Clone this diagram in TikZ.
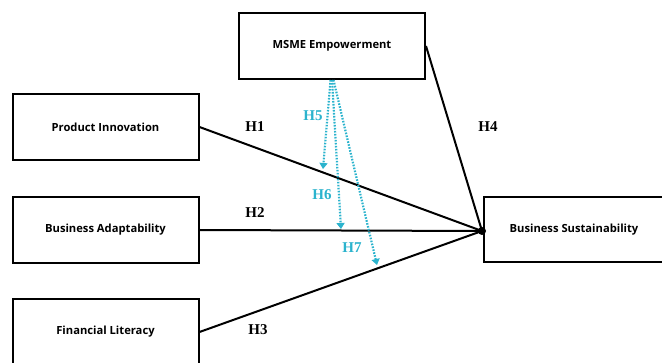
\documentclass[tikz,border=0pt]{standalone}
\usepackage{fontspec}
\setmainfont{Liberation Serif}
\newfontfamily\cajafont{Open Sans}
\usepackage{xcolor}
\usetikzlibrary{arrows.meta}
\definecolor{cian}{HTML}{2BB3CD}

\begin{document}
\begin{tikzpicture}[x=1pt, y=-1pt,
		caja/.style={draw, line width=2pt, inner sep=0pt, minimum width=186pt, minimum height=66pt, font=\cajafont\bfseries\fontsize{11.2}{13}\selectfont},
		hip/.style={font=\bfseries\fontsize{15}{17}\selectfont},
		modera/.style={cian, line width=2.2pt, dash pattern=on 1.6pt off 1.4pt, -{Triangle[width=8pt,length=6pt]}}]
			\useasboundingbox (0,0) rectangle (662,363);

			% Cajas
			\node[caja] (msme) at (332,46) {MSME Empowerment};
			\node[caja] (pi) at (105.5,127) {Product Innovation};
			\node[caja] (ba) at (105.5,230) {Business Adaptability};
			\node[caja] (fl) at (105.5,332) {Financial Literacy};
			\node[caja, minimum width=180pt, minimum height=65pt] (bs) at (574,229.5) {Business Sustainability};

			% Punto de llegada
			\coordinate (hub) at (482,231);
			\fill (hub) circle (4pt);

			% Relaciones directas
			\draw[line width=2pt] (pi.east) -- (hub);
			\draw[line width=2pt] (ba.east) -- (hub);
			\draw[line width=2pt] (fl.east) -- (hub);
			\draw[line width=2pt] (msme.east) -- (hub);

			\node[hip] (h1) at (255,127) {H1};
			\node[hip] (h2) at (255,213) {H2};
			\node[hip] (h3) at (258,330) {H3};
			\node[hip] (h4) at (488,127) {H4};

			% Efectos moderadores
			\coordinate (m5) at (323,169);
			\coordinate (m6) at (341,229);
			\coordinate (m7) at (377,265);
			\draw[modera] ([xshift=-1.5pt]msme.south) -- (m5);
			\draw[modera] (msme.south) -- (m6);
			\draw[modera] ([xshift=1.5pt]msme.south) -- (m7);

			\node[hip, cian] (h5) at (313,116) {H5};
			\node[hip, cian] (h6) at (322,195) {H6};
			\node[hip, cian] (h7) at (352,248) {H7};

		\end{tikzpicture}
\end{document}
